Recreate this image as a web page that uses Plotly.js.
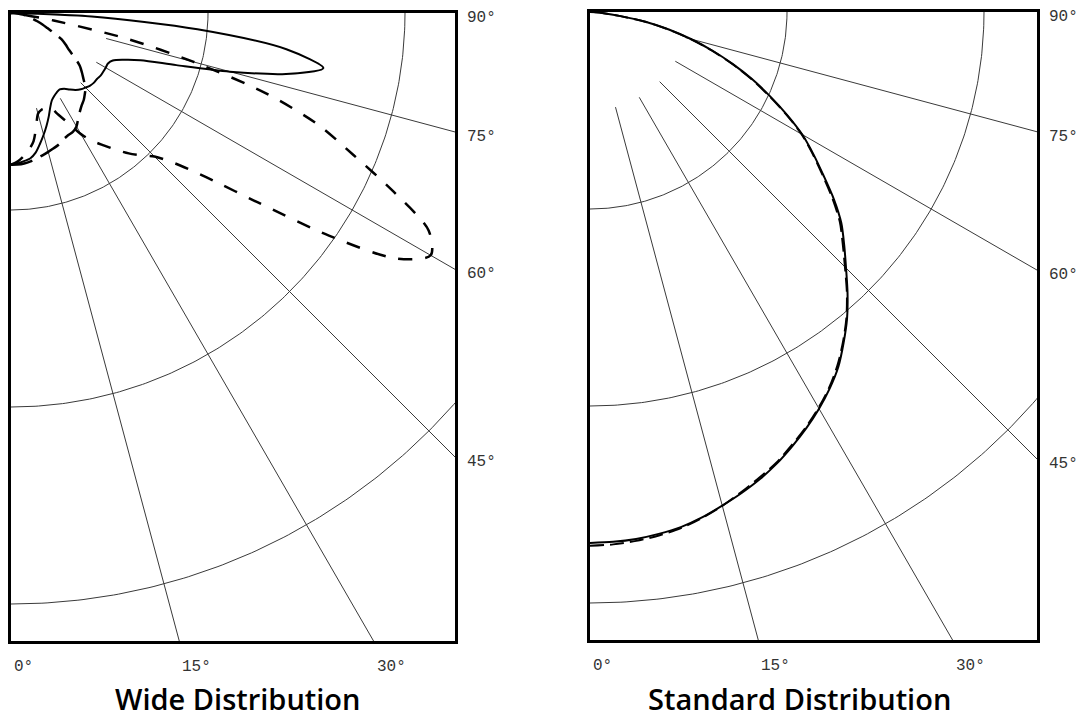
<!DOCTYPE html>
<html>
<head>
<meta charset="utf-8">
<script src="https://cdn.plot.ly/plotly-3.0.1.min.js"></script>
<style>
  html, body { margin: 0; padding: 0; background: #fff; }
</style>
</head>
<body>
<div id="chart" style="width:1080px;height:717px;"></div>
<script>
// angle from nadir (deg) and intensity (cd/klm)
var angles = [0, 2.5, 5, 7.5, 10, 12.5, 15, 17.5, 20, 22.5, 25, 27.5, 30, 32.5, 35, 37.5, 40, 42.5, 45,
              47.5, 50, 52.5, 55, 57.5, 60, 62.5, 65, 67.5, 70, 72.5, 75, 77.5, 80, 82.5, 85, 87.5, 90];

// wide distribution
var wideSolid = [77, 76.5, 75.5, 74.5, 72, 68, 64, 60, 56, 52, 49, 47.5, 46.5, 46, 47, 49, 51, 52.5, 53.5,
                 54.5, 55, 55, 55.5, 55.5, 55.5, 55.5, 57, 62, 70, 88, 115, 143, 161, 141, 95, 41, 0];
var wideDash = [77, 75.5, 73, 70, 66, 59, 53, 51.5, 51.5, 52, 57, 63, 71, 77, 82, 87.5, 93, 98, 103,
                113, 130, 158, 197, 232, 246, 239, 214, 188, 166, 136, 96, 60, 22, 6, 0, 0, 0];
var wideLongDash = [77, 77, 76.7, 76, 75, 74, 73, 72, 71, 69.5, 68.5, 68, 66.5, 63.5, 61, 59, 57.5, 55.5, 53.5,
                    50, 47, 44, 39.5, 35, 32, 29, 24, 20, 17, 14, 11.5, 9.5, 7.5, 6, 4, 2, 0];

// standard distribution
var stdSolid = [269.5, 269.2, 268.5, 267.2, 265.5, 262.8, 259.4, 256, 252.3, 248, 243.1, 238, 232.5, 226.5, 219.8, 211.5, 203,
                193.5, 183.8, 175, 166.5, 156, 144.7, 134.5, 124.4, 112.5, 100.5, 89, 77, 65, 53, 41, 29, 15, 7, 3, 0];
var stdDash = [271, 270.5, 269.5, 268, 266, 263, 259.5, 255.5, 251.5, 247.5, 242.5, 237.5, 232, 226, 219, 211, 202.5,
               193, 183, 174, 165.5, 155, 144, 134, 124, 112, 100, 88.5, 76.5, 64.5, 52.5, 40.5, 28.5, 15, 7, 3, 0];

var rings = [100, 200, 300];
var spokes = [15, 30, 45, 60, 75];
var bottomAngles = [0, 15, 30];
var bottomLabels = ["0°", "15°", "30°"];
var sideAngles = [90, 75, 60, 45];
var sideLabels = ["90°", "75°", "60°", "45°"];

var W = 1080, H = 717;
var pxPerUnit = 1.97;   // 100 cd/klm ring = 197 px

function toX(a, r) { return r * Math.sin(a * Math.PI / 180); }
function toY(a, r) { return -r * Math.cos(a * Math.PI / 180); }

var data = [];
var annotations = [];
var layout = {
  width: W, height: H,
  margin: {l: 0, r: 0, t: 0, b: 0},
  paper_bgcolor: '#fff', plot_bgcolor: '#fff',
  showlegend: false
};

// box: left, right, top, bottom in pixels
function panel(idx, box, curves, title, titleX) {
  var xa = idx === 1 ? 'x' : 'x' + idx;
  var ya = idx === 1 ? 'y' : 'y' + idx;
  var xw = (box[1] - box[0]) / pxPerUnit;
  var yh = (box[3] - box[2]) / pxPerUnit;

  // rings
  var rx = [], ry = [];
  rings.forEach(function (r) {
    for (var a = 0; a <= 90; a += 0.5) { rx.push(toX(a, r)); ry.push(toY(a, r)); }
    rx.push(null); ry.push(null);
  });
  // spokes
  spokes.forEach(function (a) {
    rx.push(toX(a, 50), toX(a, 450), null);
    ry.push(toY(a, 50), toY(a, 450), null);
  });
  data.push({x: rx, y: ry, xaxis: xa, yaxis: ya, mode: 'lines', hoverinfo: 'skip',
             line: {color: '#3a3a3a', width: 1}});

  curves.forEach(function (c) {
    data.push({
      x: angles.map(function (a, i) { return toX(a, c.values[i]); }),
      y: angles.map(function (a, i) { return toY(a, c.values[i]); }),
      xaxis: xa, yaxis: ya, mode: 'lines',
      line: {color: '#000', width: c.width, dash: c.dash, shape: 'spline', smoothing: 0.8}
    });
  });

  var axisStyle = {showgrid: false, zeroline: false, showticklabels: false, ticks: '',
                   showline: true, mirror: true, linewidth: 3, linecolor: '#000', fixedrange: true};
  layout['xaxis' + (idx === 1 ? '' : idx)] = Object.assign({}, axisStyle, {
    domain: [box[0] / W, box[1] / W], range: [0, xw], anchor: ya
  });
  layout['yaxis' + (idx === 1 ? '' : idx)] = Object.assign({}, axisStyle, {
    domain: [(H - box[3]) / H, (H - box[2]) / H], range: [-yh, 0], anchor: xa
  });

  var lblFont = {family: 'Liberation Mono, DejaVu Sans Mono, monospace', size: 16, color: '#333'};
  bottomAngles.forEach(function (a, i) {
    annotations.push({xref: xa, yref: ya, x: yh * Math.tan(a * Math.PI / 180), y: -yh,
      text: bottomLabels[i], showarrow: false, xanchor: 'left', yanchor: 'middle',
      xshift: 1, yshift: -26, font: lblFont});
  });
  sideAngles.forEach(function (a, i) {
    annotations.push({xref: xa, yref: ya, x: xw, y: -xw / Math.tan(a * Math.PI / 180),
      text: sideLabels[i], showarrow: false, xanchor: 'left', yanchor: 'middle',
      xshift: 10, yshift: -5, font: lblFont});
  });
  annotations.push({xref: 'paper', yref: 'paper', x: titleX / W, y: 0,
    text: title, showarrow: false, xanchor: 'center', yanchor: 'bottom', yshift: -3,
    font: {family: 'Open Sans, Noto Sans, sans-serif', size: 29, weight: 600, color: '#000'}});
}

panel(1, [11, 455, 13, 641], [
  {values: wideSolid, dash: 'solid', width: 2},
  {values: wideDash, dash: '14px,13px', width: 2.5},
  {values: wideLongDash, dash: '22px,9px', width: 2.5}
], 'Wide Distribution', 237);

panel(2, [590, 1037, 12, 640], [
  {values: stdSolid, dash: 'solid', width: 2},
  {values: stdDash, dash: '14px,6px', width: 2}
], 'Standard Distribution', 799);

layout.annotations = annotations;
Plotly.newPlot('chart', data, layout, {displayModeBar: false, staticPlot: true});
</script>
</body>
</html>
